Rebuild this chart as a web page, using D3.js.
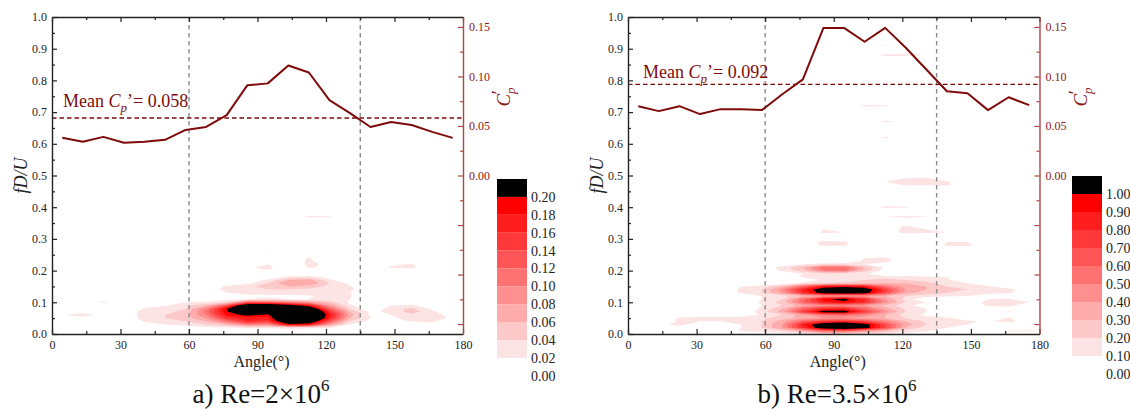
<!DOCTYPE html>
<html>
<head>
<meta charset="utf-8">
<script src="https://cdn.jsdelivr.net/npm/d3@7"></script>
<style>
  body { margin: 0; background: #fff; }
  svg { display: block; }
  text { font-family: "Liberation Serif", "Times New Roman", serif; }
</style>
</head>
<body>
<svg id="chart" width="1130" height="409"></svg>
<script>
// Pressure-tap angles (deg) shared by both Reynolds numbers
const angles = [4.5, 13.5, 22.5, 31.5, 40.5, 49.5, 58.5, 67.5, 76.5, 85.5,
                94.5, 103.5, 112.5, 121.5, 130.5, 139.5, 148.5, 157.5, 166.5, 175.5];

// Fluctuating pressure coefficient Cp' per angle
const cpA = [0.038, 0.034, 0.039, 0.033, 0.034, 0.036, 0.046, 0.049, 0.061, 0.091,
             0.093, 0.111, 0.104, 0.076, 0.063, 0.049, 0.054, 0.051, 0.044, 0.038];
const cpB = [0.070, 0.065, 0.070, 0.062, 0.067, 0.067, 0.066, 0.082, 0.097, 0.149,
             0.149, 0.135, 0.149, 0.129, 0.107, 0.085, 0.083, 0.066, 0.079, 0.071];
const meanCpA = 0.058;
const meanCpB = 0.092;

// Tick values
const angleTicks = [0, 30, 60, 90, 120, 150, 180];
const angleMinorTicks = [15, 45, 75, 105, 135, 165];
const freqTicks = [0, 0.1, 0.2, 0.3, 0.4, 0.5, 0.6, 0.7, 0.8, 0.9, 1.0];
const freqMinorTicks = [0.05, 0.15, 0.25, 0.35, 0.45, 0.55, 0.65, 0.75, 0.85, 0.95];
const cpTicks = [-0.15, -0.1, -0.05, 0, 0.05, 0.1, 0.15];
const cpMinorTicks = [-0.125, -0.075, -0.025, 0.025, 0.075, 0.125];
const markerAngles = [60, 135];

// Contour levels of the spectra
const levelsA = [0.02, 0.04, 0.06, 0.08, 0.10, 0.12, 0.14, 0.16, 0.18, 0.20];
const levelsB = [0.1, 0.2, 0.3, 0.4, 0.5, 0.6, 0.7, 0.8, 0.9, 1.0];

// Spectral amplitude rows: [fD/U, value at each angle]; rows not listed are zero
const spectrumA = [
  [0.01, 0,0,0,0,0,0,0,0,0,0.010,0.012,0.012,0.010,0.008,0,0,0,0,0,0],
  [0.02, 0,0,0,0,0,0,0.010,0.015,0.018,0.022,0.022,0.024,0.024,0.020,0.010,0,0,0,0,0],
  [0.03, 0,0,0,0,0.012,0.020,0.025,0.040,0.060,0.100,0.090,0.190,0.180,0.080,0.020,0,0,0,0.012,0],
  [0.04, 0,0,0,0,0.022,0.035,0.040,0.060,0.110,0.160,0.150,0.260,0.250,0.130,0.040,0.012,0.010,0.022,0.025,0],
  [0.05, 0,0,0,0,0.030,0.040,0.050,0.080,0.150,0.170,0.170,0.290,0.290,0.170,0.060,0.020,0.015,0.030,0.030,0.015],
  [0.06, 0.018,0.036,0.005,0,0.030,0.040,0.050,0.100,0.180,0.210,0.190,0.300,0.300,0.180,0.070,0.015,0.020,0.035,0.030,0.012],
  [0.07, 0,0.010,0,0,0.030,0.035,0.045,0.110,0.195,0.290,0.240,0.320,0.300,0.160,0.060,0.015,0.025,0.050,0.025,0],
  [0.08, 0,0,0,0,0.022,0.030,0.040,0.100,0.198,0.300,0.300,0.300,0.260,0.120,0.040,0,0.030,0.045,0.015,0],
  [0.09, 0,0,0,0,0.010,0.018,0.035,0.060,0.130,0.270,0.270,0.230,0.180,0.080,0.025,0,0.020,0.025,0,0],
  [0.10, 0,0,0.026,0,0,0,0.020,0.025,0.040,0.120,0.120,0.100,0.080,0.050,0.015,0,0,0,0,0],
  [0.11, 0,0,0,0,0,0,0,0.005,0.012,0.020,0.025,0.020,0.020,0.025,0.020,0,0,0,0,0],
  [0.12, 0,0,0,0,0,0,0,0,0.010,0.015,0.015,0.015,0.018,0.025,0.022,0,0,0,0,0],
  [0.13, 0,0,0,0,0,0,0,0,0.020,0.025,0.030,0.030,0.030,0.025,0.020,0,0,0,0,0],
  [0.14, 0,0,0,0,0,0,0,0.010,0.025,0.035,0.040,0.040,0.035,0.030,0.025,0,0,0,0,0],
  [0.15, 0,0,0,0,0,0,0,0,0.025,0.035,0.050,0.060,0.050,0.035,0.022,0,0,0,0,0],
  [0.16, 0,0,0,0,0,0,0,0,0,0.015,0.040,0.080,0.080,0.040,0.015,0,0,0,0,0],
  [0.17, 0,0,0,0,0,0,0,0,0,0,0.025,0.060,0.070,0.025,0,0,0,0,0,0],
  [0.18, 0,0,0,0,0,0,0,0,0,0,0,0.025,0.030,0.012,0,0,0,0,0,0],
  [0.20, 0,0,0,0,0,0,0,0,0,0,0.018,0,0,0,0,0,0,0,0,0],
  [0.21, 0,0,0,0,0,0,0,0,0,0.015,0.028,0,0.022,0.015,0,0,0.024,0.026,0,0],
  [0.22, 0,0,0,0,0,0,0,0,0,0,0.020,0,0.025,0.015,0,0,0.015,0.022,0,0],
  [0.23, 0,0,0,0,0,0,0,0,0,0,0,0,0.025,0,0,0,0,0,0,0],
  [0.24, 0,0,0,0,0,0,0,0,0,0,0,0,0.022,0,0,0,0,0,0,0],
  [0.27, 0,0,0,0,0,0,0,0,0,0,0.022,0,0,0,0,0,0,0,0,0],
  [0.30, 0,0,0,0,0,0,0,0,0,0,0.021,0,0,0,0,0,0,0,0,0],
  [0.37, 0,0,0,0,0,0,0,0,0,0,0,0,0.026,0.024,0,0,0,0,0,0]
];

const spectrumB = [
  [0.00, 0,0,0,0,0,0,0,0.05,0.10,0.15,0.15,0.12,0.10,0.08,0,0,0,0,0,0],
  [0.01, 0,0,0,0,0,0.12,0.15,0.20,0.35,0.60,0.60,0.45,0.30,0.15,0.12,0.05,0,0,0.12,0.12],
  [0.02, 0,0,0.05,0,0,0.10,0.20,0.40,0.80,1.15,1.30,1.10,0.70,0.30,0.15,0.10,0,0,0,0],
  [0.03, 0,0.05,0.15,0,0,0.10,0.20,0.40,0.85,1.20,1.30,1.10,0.70,0.35,0.20,0.12,0.10,0,0,0],
  [0.04, 0,0,0.12,0.10,0.10,0.12,0.20,0.35,0.60,0.75,0.80,0.70,0.50,0.30,0.18,0.15,0.12,0.08,0.15,0],
  [0.05, 0,0,0.12,0.15,0.15,0.15,0.18,0.25,0.35,0.40,0.40,0.35,0.30,0.20,0.15,0.12,0.05,0,0.12,0],
  [0.06, 0,0,0,0,0,0,0.12,0.20,0.35,0.50,0.55,0.45,0.30,0.15,0.08,0,0,0,0,0],
  [0.07, 0,0,0,0,0,0,0.15,0.35,0.75,1.10,1.10,0.75,0.45,0.20,0.10,0,0,0,0.12,0],
  [0.08, 0,0,0,0,0,0,0.12,0.30,0.60,0.80,0.85,0.60,0.35,0.18,0.10,0,0,0,0,0],
  [0.09, 0,0,0,0,0,0,0.10,0.20,0.35,0.45,0.45,0.40,0.25,0.15,0,0,0,0.12,0.15,0],
  [0.10, 0,0,0,0,0,0,0.12,0.25,0.60,0.85,0.95,0.80,0.45,0.20,0.10,0,0,0.15,0.20,0.10],
  [0.11, 0,0,0,0,0,0,0.10,0.20,0.55,0.95,1.08,0.80,0.40,0.15,0,0,0,0.10,0.12,0],
  [0.12, 0,0,0,0,0,0,0.10,0.15,0.30,0.40,0.40,0.40,0.30,0.20,0.15,0.12,0.10,0,0,0],
  [0.13, 0,0,0,0,0,0.12,0.20,0.40,0.80,1.10,1.15,1.10,0.70,0.35,0.25,0.20,0.18,0.15,0.12,0],
  [0.14, 0,0,0,0,0.05,0.11,0.20,0.45,0.85,1.15,1.20,1.15,0.75,0.40,0.30,0.25,0.20,0.18,0.15,0],
  [0.15, 0,0,0,0,0,0.10,0.15,0.30,0.60,0.90,0.95,0.90,0.55,0.35,0.30,0.20,0.15,0.12,0,0],
  [0.16, 0,0,0,0,0,0,0,0,0.15,0.20,0.22,0.25,0.30,0.30,0.25,0.15,0.10,0,0,0],
  [0.17, 0,0,0,0,0,0,0,0,0,0.12,0.15,0.20,0.25,0.20,0.15,0.12,0,0,0,0],
  [0.18, 0,0,0,0,0,0,0,0,0.12,0.15,0.20,0.18,0.15,0.15,0.12,0.10,0,0,0,0],
  [0.19, 0,0,0,0,0,0,0,0,0.10,0.15,0.15,0.12,0,0,0,0,0,0,0,0],
  [0.20, 0,0,0,0,0,0,0,0.12,0.25,0.50,0.55,0.25,0.05,0,0,0,0,0,0,0],
  [0.21, 0,0,0,0,0,0,0,0.15,0.30,0.60,0.60,0.30,0.08,0,0,0,0,0,0,0],
  [0.22, 0,0,0,0,0,0,0,0,0.10,0.15,0.15,0.10,0,0,0,0,0,0,0,0],
  [0.23, 0,0,0,0,0,0,0,0,0,0,0,0.12,0.15,0,0,0,0,0,0,0],
  [0.24, 0,0,0,0,0,0,0,0,0,0,0,0.10,0.12,0,0,0,0,0,0,0],
  [0.28, 0,0,0,0,0,0,0,0,0,0.12,0.12,0,0,0,0,0.12,0.14,0,0,0],
  [0.29, 0,0,0,0,0,0,0,0,0,0.15,0.12,0,0,0,0,0.10,0.10,0,0,0],
  [0.32, 0,0,0,0,0,0,0,0,0,0.12,0.10,0,0,0.15,0.12,0.10,0,0,0,0],
  [0.33, 0,0,0,0,0,0,0,0,0,0.10,0,0,0,0.15,0.10,0,0,0,0,0],
  [0.34, 0,0,0,0,0,0,0,0,0,0,0,0,0,0.12,0,0,0,0,0,0],
  [0.37, 0,0,0,0,0,0,0,0,0,0,0,0.10,0.10,0.15,0.11,0,0,0,0,0],
  [0.40, 0,0,0,0,0,0,0,0,0,0,0,0,0.14,0.12,0,0,0,0,0,0],
  [0.47, 0,0,0,0,0,0,0,0,0,0,0,0,0,0.12,0.12,0.12,0,0,0,0],
  [0.48, 0,0,0,0,0,0,0,0,0,0,0,0,0.10,0.14,0.14,0.12,0,0,0,0],
  [0.49, 0,0,0,0,0,0,0,0,0,0,0,0,0,0.12,0.14,0,0,0,0,0],
  [0.62, 0,0,0,0,0,0,0,0,0,0,0,0,0.13,0,0,0,0,0,0,0],
  [0.67, 0,0,0,0,0,0,0,0,0,0,0,0,0.13,0.08,0,0,0,0,0,0],
  [0.72, 0,0,0,0,0,0,0,0,0,0,0,0.13,0.12,0,0,0,0,0,0,0],
  [0.88, 0,0,0,0,0,0,0,0,0,0,0,0,0.14,0.14,0.10,0,0,0,0,0],
  [0.91, 0,0,0,0,0,0,0,0,0,0,0,0,0.12,0,0,0,0,0,0,0]
];

const svg = d3.select("#chart");
const plotTop = 17, plotBottom = 334;
const cpColor = "#7f0a0a";
const cpAxisColor = "#a84848";
const cpTextColor = "#8b1a1a";
const axisColor = "#222";
const serif = "Liberation Serif, Times New Roman, serif";

const panels = [
  { id: "a", x0: 52, x1: 463, cp: cpA, mean: meanCpA, rows: spectrumA, fStep: 0.01,
    levels: levelsA, fmt: d3.format(".2f"), cb: { x: 497, top: 179, band: 17.9 },
    meanPos: [63, 107], titleMain: "a) Re=2×10", titleX: 261 },
  { id: "b", x0: 628, x1: 1039.5, cp: cpB, mean: meanCpB, rows: spectrumB, fStep: 0.01,
    levels: levelsB, fmt: d3.format(".2f"), cb: { x: 1072, top: 176, band: 18 },
    meanPos: [643, 77.5], titleMain: "b) Re=3.5×10", titleX: 837 }
];

const shade = d3.scaleLinear().domain([0, 8]).range(["#fde4e4", "#ff0000"]);
function bandColor(i, n) { return i >= n - 1 ? "#000000" : shade(i); }

function buildGrid(rows, step, nCols) {
  const nRows = Math.round(d3.max(rows, r => r[0]) / step) + 2;
  const values = new Array(nRows * nCols).fill(0);
  rows.forEach(r => {
    const j = Math.round(r[0] / step);
    for (let i = 0; i < nCols; i++) values[j * nCols + i] = r[i + 1];
  });
  return { values, nRows };
}

panels.forEach(p => {
  const x = d3.scaleLinear().domain([0, 180]).range([p.x0, p.x1]);
  const y = d3.scaleLinear().domain([0, 1]).range([plotBottom, plotTop]);
  const yCp = d3.scaleLinear().domain([-0.16, 0.16]).range([plotBottom, plotTop]);
  const g = svg.append("g");

  g.append("clipPath").attr("id", "clip-" + p.id)
    .append("rect").attr("x", p.x0).attr("y", plotTop)
    .attr("width", p.x1 - p.x0).attr("height", plotBottom - plotTop);

  // Filled spectrum contours
  const nCols = angles.length;
  const grid = buildGrid(p.rows, p.fStep, nCols);
  const dA = angles[1] - angles[0];
  const contours = d3.contours().size([nCols, grid.nRows]).thresholds(p.levels)(grid.values);
  const proj = d3.geoTransform({
    point: function (gx, gy) {
      this.stream.point(x(angles[0] + dA * (gx - 0.5)), y(p.fStep * (gy - 0.5)));
    }
  });
  const path = d3.geoPath(proj);
  g.append("g").attr("clip-path", "url(#clip-" + p.id + ")")
    .selectAll("path").data(contours).join("path")
    .attr("d", path)
    .attr("fill", (d, i) => bandColor(i, p.levels.length))
    .attr("stroke", "none");

  // Reference angles
  g.selectAll(".mark").data(markerAngles).join("line")
    .attr("x1", d => x(d)).attr("x2", d => x(d))
    .attr("y1", plotTop).attr("y2", plotBottom)
    .attr("stroke", "#8c8c8c").attr("stroke-width", 1.4).attr("stroke-dasharray", "4.5,3.5");

  // Mean Cp'
  g.append("line").attr("x1", p.x0).attr("x2", p.x1)
    .attr("y1", yCp(p.mean)).attr("y2", yCp(p.mean))
    .attr("stroke", cpColor).attr("stroke-width", 1.4).attr("stroke-dasharray", "4.5,3");

  // Cp' distribution
  const line = d3.line().x((d, i) => x(angles[i])).y(d => yCp(d));
  g.append("path").datum(p.cp).attr("d", line)
    .attr("fill", "none").attr("stroke", cpColor).attr("stroke-width", 2).attr("stroke-linejoin", "round");

  const meanText = g.append("text").attr("x", p.meanPos[0]).attr("y", p.meanPos[1])
    .attr("font-size", 18).attr("fill", cpColor);
  meanText.append("tspan").text("Mean ");
  meanText.append("tspan").attr("font-style", "italic").text("C");
  meanText.append("tspan").attr("font-style", "italic").attr("font-size", 13).attr("dy", 5).text("p");
  meanText.append("tspan").attr("dy", -5).text("’= " + d3.format(".3f")(p.mean));

  // Axes
  const styleAxis = (sel, color) => {
    sel.attr("font-family", serif);
    sel.select(".domain").attr("stroke", color).attr("stroke-width", 1.4);
    sel.selectAll(".tick line").attr("stroke", color).attr("stroke-width", 1.2);
    sel.selectAll(".tick text").attr("fill", color === cpAxisColor ? cpTextColor : axisColor);
  };

  g.append("g").attr("transform", `translate(0,${plotTop})`)
    .call(d3.axisTop(x).tickValues(angleTicks).tickSize(-5).tickSizeOuter(0).tickFormat(""))
    .call(s => styleAxis(s, axisColor));
  g.append("g").attr("transform", `translate(0,${plotTop})`)
    .call(d3.axisTop(x).tickValues(angleMinorTicks).tickSize(-3).tickSizeOuter(0).tickFormat(""))
    .call(s => { styleAxis(s, axisColor); s.select(".domain").remove(); });

  g.append("g").attr("transform", `translate(0,${plotBottom})`)
    .call(d3.axisBottom(x).tickValues(angleTicks).tickSize(-5).tickSizeOuter(0).tickPadding(6))
    .call(s => { styleAxis(s, axisColor); s.selectAll("text").attr("font-size", 12); });
  g.append("g").attr("transform", `translate(0,${plotBottom})`)
    .call(d3.axisBottom(x).tickValues(angleMinorTicks).tickSize(-3).tickSizeOuter(0).tickFormat(""))
    .call(s => { styleAxis(s, axisColor); s.select(".domain").remove(); });

  g.append("g").attr("transform", `translate(${p.x0},0)`)
    .call(d3.axisLeft(y).tickValues(freqTicks).tickSize(-5).tickSizeOuter(0).tickPadding(5).tickFormat(d3.format(".1f")))
    .call(s => { styleAxis(s, axisColor); s.selectAll("text").attr("font-size", 12); });
  g.append("g").attr("transform", `translate(${p.x0},0)`)
    .call(d3.axisLeft(y).tickValues(freqMinorTicks).tickSize(-3).tickSizeOuter(0).tickFormat(""))
    .call(s => { styleAxis(s, axisColor); s.select(".domain").remove(); });

  g.append("g").attr("transform", `translate(${p.x1},0)`)
    .call(d3.axisRight(yCp).tickValues(cpTicks).tickSize(-5).tickSizeOuter(0).tickPadding(6)
      .tickFormat(d => d >= 0 ? d3.format(".2f")(d) : ""))
    .call(s => { styleAxis(s, cpAxisColor); s.selectAll("text").attr("font-size", 12); });
  g.append("g").attr("transform", `translate(${p.x1},0)`)
    .call(d3.axisRight(yCp).tickValues(cpMinorTicks).tickSize(-3).tickSizeOuter(0).tickFormat(""))
    .call(s => { styleAxis(s, cpAxisColor); s.select(".domain").remove(); });

  // Axis titles
  g.append("text")
    .attr("transform", `translate(${p.x0 - 25},${(plotTop + plotBottom) / 2}) rotate(-90)`)
    .attr("text-anchor", "middle").attr("font-size", 18).attr("font-style", "italic")
    .attr("fill", axisColor).text("fD/U");

  g.append("text").attr("x", (p.x0 + p.x1) / 2 + 4).attr("y", 367)
    .attr("text-anchor", "middle").attr("font-size", 16).attr("fill", axisColor).text("Angle(°)");

  const cpLab = g.append("text")
    .attr("transform", `translate(${p.x1 + 47},97) rotate(-90)`)
    .attr("text-anchor", "middle").attr("font-size", 19).attr("font-style", "italic").attr("fill", cpTextColor);
  cpLab.append("tspan").text("C");
  cpLab.append("tspan").attr("font-size", 13).attr("dy", 5).text("p");
  cpLab.append("tspan").attr("dy", -10).attr("dx", -8).text("′");

  // Title
  const t = g.append("text").attr("x", p.titleX).attr("y", 403)
    .attr("text-anchor", "middle").attr("font-size", 27).attr("fill", "#111");
  t.append("tspan").text(p.titleMain);
  t.append("tspan").attr("font-size", 17).attr("dy", -12).text("6");

  // Colour bar
  const n = p.levels.length;
  const step = p.levels[1] - p.levels[0];
  const cbScale = d3.scaleLinear().domain([0, p.levels[n - 1] + step])
    .range([p.cb.top + p.cb.band * (n + 1), p.cb.top]);
  const bands = p.levels.map((lv, i) => ({ lo: lv, hi: i < n - 1 ? p.levels[i + 1] : lv + step, i }));
  const cb = g.append("g");
  cb.selectAll("rect").data(bands).join("rect")
    .attr("x", p.cb.x).attr("width", 30)
    .attr("y", d => cbScale(d.hi)).attr("height", d => cbScale(d.lo) - cbScale(d.hi))
    .attr("fill", d => bandColor(d.i, n));
  cb.selectAll("text").data([0].concat(p.levels)).join("text")
    .attr("x", p.cb.x + 34).attr("y", d => cbScale(d)).attr("dy", "0.35em")
    .attr("font-size", 14).attr("fill", "#222").text(d => p.fmt(d));
});
</script>
</body>
</html>
